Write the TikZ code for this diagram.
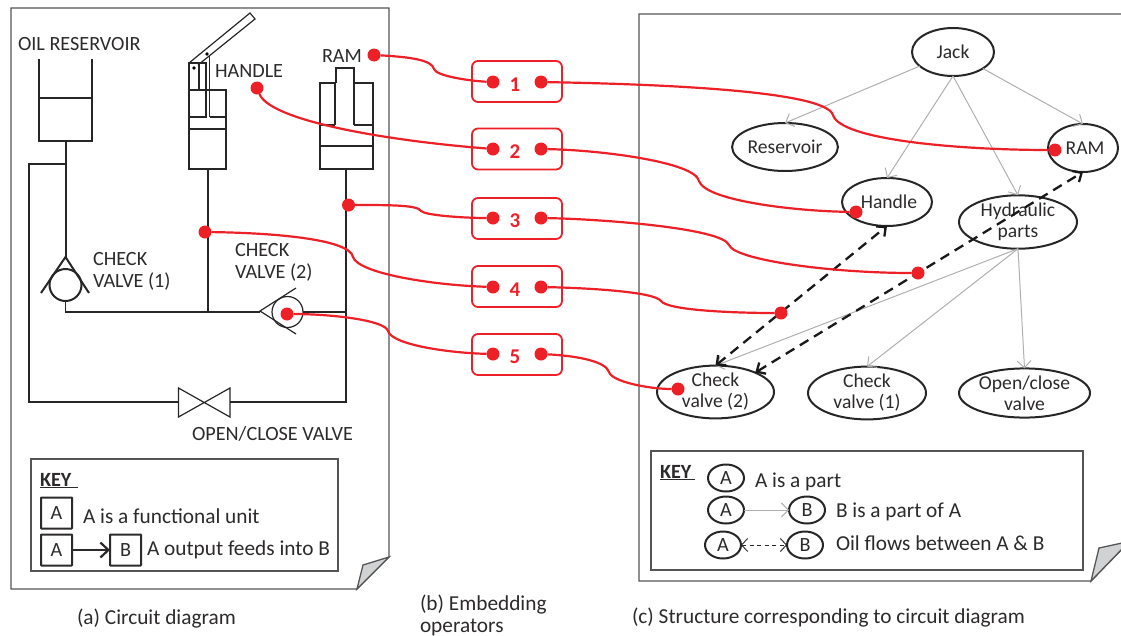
\documentclass[tikz,border=0pt]{standalone}
\usepackage{fontspec}
\setmainfont{Carlito}
\usetikzlibrary{arrows.meta,shapes.geometric}

\definecolor{opred}{RGB}{237,32,39}
\definecolor{inktext}{RGB}{45,42,43}
\definecolor{pagegray}{RGB}{85,85,85}
\definecolor{foldgray}{RGB}{208,210,211}
\definecolor{partgray}{RGB}{175,175,175}

\tikzset{
  txt/.style={inner sep=0pt,outer sep=0pt,text=inktext,font=\fontsize{21.3}{22}\selectfont},
  lab/.style={txt,anchor=base west},
  caps/.style={txt,font=\fontsize{20.2}{22}\selectfont},
  keybox/.style={draw=inktext,line width=2pt,rounded corners=.5pt,minimum size=31pt,inner sep=0pt,outer sep=0pt,caps},
  part/.style={ellipse,draw=black!85,line width=2pt,inner xsep=0pt,inner ysep=-10pt,outer sep=0pt,minimum height=48pt,align=center,txt,font=\fontsize{19.6}{21}\selectfont},
  keypart/.style={part,minimum width=36pt,minimum height=27pt,font=\fontsize{20.2}{21}\selectfont},
  opbox/.style={draw=opred,line width=1.8pt,rounded corners=6pt,minimum width=90pt,minimum height=41pt},
  opdot/.style={circle,fill=opred,minimum size=13pt,inner sep=0pt,outer sep=0pt},
  opnum/.style={inner sep=0pt,text=opred,font=\fontsize{21}{22}\selectfont\bfseries},
  oplink/.style={draw=opred,line width=2.2pt},
  pagefr/.style={draw=pagegray,line width=1.3pt,line join=miter},
  thickpipe/.style={draw=black!85,line width=2.6pt},
  unit/.style={draw=black!85,line width=2pt},
  thinpipe/.style={draw=black!85,line width=1.2pt},
  haspart/.style={draw=partgray,line width=1pt,-{Straight Barb[length=7pt,width=14pt]}},
  flow/.style={draw=black!90,line width=2.3pt,dash pattern=on 10pt off 6.5pt,{Straight Barb[length=7pt,width=13pt]}-{Straight Barb[length=7pt,width=13pt]}},
}

\begin{document}
\begin{tikzpicture}[x=1pt,y=-1pt]
  \useasboundingbox (0,0) rectangle (1121,635);

  %% circuit diagram
  \begin{scope}
    \draw[pagefr] (11,8) -- (389,8) -- (389,557) -- (357,589) -- (11,589) -- cycle;
    \draw[pagefr,fill=foldgray] (389,557) -- (363,565) -- (357,589) -- cycle;

    %% reservoir
    \draw[unit] (39,59) -- (39,141) -- (92,141) -- (92,59);
    \draw[unit] (39,98) -- (92,98);
    \draw[unit] (65.5,141) -- (65.5,257);
    \draw[thickpipe] (65.5,164) -- (29,164) -- (29,402) -- (178,402);

    %% check valve (1)
    \draw[unit] (41,293) -- (65.5,257) -- (89,293);
    \draw[unit] (65.5,285) circle (16);
    \draw[thinpipe] (65.5,301) -- (65.5,312) -- (260,312);

    %% pump and handle
    \draw[unit] (189,90) rectangle (226,169);
    \draw[unit] (189,129) -- (226,129);
    \draw[unit] (189,117) -- (205.5,117) -- (205.5,63) -- (189,63) -- (189,90);
    \draw[unit] (209.5,117) -- (226,117);
    \draw[thinpipe] (209.5,117) -- (209.5,55);
    \draw[thinpipe] (199,63) -- (199,90);
    \draw[thinpipe] (189,63) -- (250,13) -- (255,19) -- (198,65);
    \fill[black] (207,54) circle (1.8);
    \fill[black] (194,68) circle (1.8);
    \draw[unit] (207.5,169) -- (207.5,312);

    %% ram
    \draw[unit] (335,125) -- (335,83) -- (320,83) -- (320,169) -- (373,169) -- (373,83) -- (354,83) -- (354,125);
    \draw[unit] (336,83) -- (336,68) -- (354,68) -- (354,83);
    \draw[unit] (320,125) -- (335,125);
    \draw[unit] (354,125) -- (373,125);
    \draw[unit] (320,146) -- (373,146);

    %% check valve (2) and open/close valve
    \draw[thinpipe] (296,288) -- (260,311) -- (296,334);
    \draw[thinpipe] (287.5,312) circle (15.5);
    \draw[thinpipe] (303,312) -- (346,312);
    \draw[thinpipe] (346,169) -- (346,402) -- (230,402);
    \draw[thinpipe] (178.5,388) -- (178.5,417) -- (230,388) -- (230,417) -- cycle;

    \node[lab,caps] (oilLabel) at (18,50) {OIL RESERVOIR};
    \node[lab,caps] (ramLabel) at (322,62) {RAM};
    \node[lab,caps] (handleLabel) at (215,77) {HANDLE};
    \node[txt,caps,align=left,anchor=west] (checkOneLabel) at (93,271) {CHECK\\VALVE (1)};
    \node[txt,caps,align=left,anchor=west] (checkTwoLabel) at (235,262) {CHECK\\VALVE (2)};
    \node[lab,caps] (openLabel) at (192,440) {OPEN/CLOSE VALVE};

    %% key
    \draw[pagefr] (31,459) rectangle (338,571);
    \node[lab,caps] (keyA) at (40,486) {\underline{\textbf{KEY}\,\,}};
    \node[keybox,draw] (unitA) at (56.5,513) {A};
    \node[lab] (unitText) at (83,523) {A is a functional unit};
    \node[keybox,draw] (feedA) at (56.5,550) {A};
    \node[keybox,draw] (feedB) at (125.5,550) {B};
    \node[lab] (feedText) at (147,555) {A output feeds into B};
    \draw[line width=2.2pt,draw=inktext,-{Straight Barb[length=8pt,width=15pt]}] (feedA) -- (feedB);
  \end{scope}

  %% embedding operators
  \begin{scope}
    \node[opbox] (opOne) at (517,81.5) {};
    \node[opbox] (opTwo) at (517,149) {};
    \node[opbox] (opThree) at (517,218.5) {};
    \node[opbox] (opFour) at (517,286.5) {};
    \node[opbox] (opFive) at (517,354.5) {};

    \node[opnum] (numOne) at (515,85) {1};
    \node[opnum] (numTwo) at (515,152) {2};
    \node[opnum] (numThree) at (515,221) {3};
    \node[opnum] (numFour) at (515,290) {4};
    \node[opnum] (numFive) at (515,357) {5};

    \node[opdot] (inOne) at (493,82) {};
    \node[opdot] (outOne) at (541,82) {};
    \node[opdot] (inTwo) at (493,149) {};
    \node[opdot] (outTwo) at (541,149) {};
    \node[opdot] (inThree) at (493,218) {};
    \node[opdot] (outThree) at (541,218) {};
    \node[opdot] (inFour) at (493,287) {};
    \node[opdot] (outFour) at (541,287) {};
    \node[opdot] (inFive) at (493,354) {};
    \node[opdot] (outFive) at (541,354) {};

    %% red dots on the circuit
    \node[opdot] (atRam) at (374,55) {};
    \node[opdot] (atHandle) at (257,88) {};
    \node[opdot] (atRamPipe) at (348.5,205) {};
    \node[opdot] (atPumpPipe) at (205,232) {};
    \node[opdot] (atCheckTwo) at (287,314) {};
  \end{scope}

  %% structure
  \begin{scope}
    \draw[pagefr] (1121,14) -- (639,14) -- (639,581) -- (1091,581) -- (1121,550);
    \draw[pagefr,fill=foldgray] (1122,543) -- (1099,548) -- (1091,581) -- (1122,549);

    \node[part,minimum width=82pt] (jack) at (953,52) {Jack};
    \node[part,minimum width=104pt] (reservoir) at (785,147) {Reservoir};
    \node[part,minimum width=70pt] (ram) at (1083,148) {\hspace*{4pt}RAM};
    \node[part,minimum width=90pt] (handle) at (887,202) {\hspace*{4pt}Handle};
    \node[part,minimum width=118pt] (hydraulic) at (1018,222) {Hydraulic\\parts};
    \node[part,minimum width=117pt] (checkTwo) at (715.5,392) {Check\\valve (2)};
    \node[part,minimum width=118pt] (checkOne) at (867,393) {Check\\valve (1)};
    \node[part,minimum width=131pt] (openClose) at (1024.5,393) {Open/close\\valve};

    \draw[haspart] (jack) -- (reservoir.north);
    \draw[haspart] (jack.south) -- (handle.north);
    \draw[haspart] (jack.south) -- (hydraulic.north);
    \draw[haspart] (jack) -- (ram.north);
    \draw[haspart] (hydraulic.south) -- (checkTwo.north);
    \draw[haspart] (hydraulic.south) -- (checkOne.north);
    \draw[haspart] (hydraulic.south) -- (openClose.north);

    \draw[flow] (checkTwo.north) -- (handle.south);
    \draw[flow] (checkTwo.26) -- (ram.south);

    \node[opdot] (inRam) at (1055,150) {};
    \node[opdot] (inHandle) at (856,212) {};
    \node[opdot] (onFlowTop) at (918,273) {};
    \node[opdot] (onFlowLow) at (781,313) {};
    \node[opdot] (inCheckTwo) at (678,389) {};

    %% key
    \draw[pagefr] (651,451) rectangle (1083,570);
    \node[lab,caps] (keyC) at (660,478) {\underline{\textbf{KEY}\,}};
    \node[keypart] (partA) at (726,478) {A};
    \node[lab] (partText) at (755,487) {A is a part};
    \node[keypart] (ofA) at (726,510) {A};
    \node[keypart] (ofB) at (807,510) {B};
    \node[lab] (ofText) at (836,517) {B is a part of A};
    \node[keypart] (oilA) at (723,545) {A};
    \node[keypart] (oilB) at (805,545) {B};
    \node[lab] (oilText) at (836,550) {Oil flows between A \& B};
    \draw[haspart] (ofA) -- (ofB);
    \draw[line width=.9pt,draw=black!85,dash pattern=on 4pt off 3.5pt,{Straight Barb[length=6pt,width=13pt]}-{Straight Barb[length=6pt,width=13pt]}] (oilA) -- (oilB);
  \end{scope}

  %% red links
  \draw[oplink] (atRam) .. controls (410,57) and (432,60) .. (434,69) .. controls (436,76) and (470,81) .. (inOne);
  \draw[oplink] (atHandle) .. controls (270,120) and (380,140) .. (inTwo);
  \draw[oplink] (atRamPipe) .. controls (390,205) and (418,205) .. (421,211) .. controls (425,215) and (460,218) .. (inThree);
  \draw[oplink] (atPumpPipe) .. controls (280,233) and (350,240) .. (353,257) .. controls (358,273) and (430,285) .. (inFour);
  \draw[oplink] (atCheckTwo) .. controls (330,314) and (385,320) .. (388,331) .. controls (392,345) and (450,353) .. (inFive);

  \draw[oplink] (outOne) .. controls (650,84) and (825,90) .. (833,115) .. controls (840,140) and (960,150) .. (inRam);
  \draw[oplink] (outTwo) .. controls (600,150) and (695,162) .. (699,181) .. controls (705,200) and (790,211) .. (inHandle);
  \draw[oplink] (outThree) .. controls (600,219) and (722,228) .. (729,245) .. controls (735,260) and (830,273) .. (onFlowTop);
  \draw[oplink] (outFour) .. controls (590,288) and (655,292) .. (661,301) .. controls (667,310) and (730,313) .. (onFlowLow);
  \draw[oplink] (outFive) .. controls (580,356) and (606,362) .. (609,372) .. controls (612,382) and (650,389) .. (inCheckTwo);

  %% captions
  \node[lab] (captionA) at (77,624) {(a) Circuit diagram};
  \node[txt,align=left,anchor=west] (captionB) at (420,615) {(b) Embedding\\operators};
  \node[lab] (captionC) at (632,623) {(c) Structure corresponding to circuit diagram};
\end{tikzpicture}
\end{document}
